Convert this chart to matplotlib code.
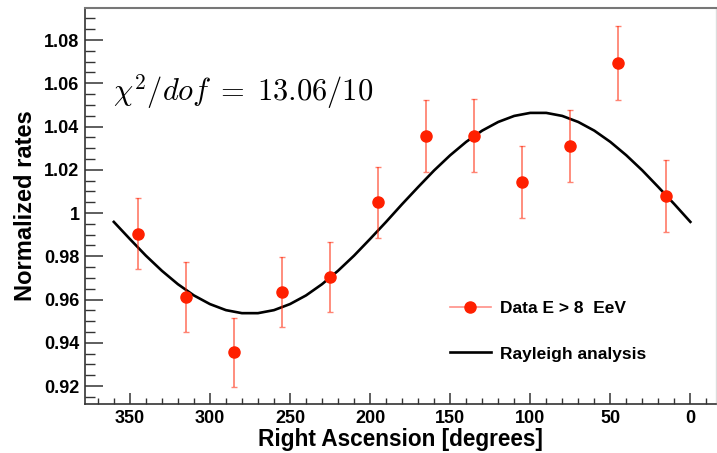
import matplotlib.pyplot as plt
from matplotlib.lines import Line2D
from matplotlib.ticker import MultipleLocator

# data points (RA in degrees, normalized rate, error)
ra = [345, 315, 285, 255, 225, 195, 165, 135, 105, 75, 45, 15]
rate = [0.9904, 0.9611, 0.9356, 0.9634, 0.9705, 1.0049, 1.0356, 1.0358, 1.0145, 1.0310, 1.0694, 1.0079]
err = [0.0165, 0.0162, 0.0160, 0.0163, 0.0163, 0.0165, 0.0168, 0.0168, 0.0167, 0.0167, 0.0172, 0.0166]

# Rayleigh curve, every 10 degrees
curve_ra = list(range(0, 361, 10))
curve_rate = [0.9959, 1.0041, 1.0120, 1.0197, 1.0267, 1.0329, 1.0381, 1.0421, 1.0449, 1.0463,
              1.0463, 1.0449, 1.0421, 1.0381, 1.0329, 1.0267, 1.0197, 1.0120, 1.0041, 0.9959,
              0.9880, 0.9803, 0.9733, 0.9671, 0.9619, 0.9579, 0.9551, 0.9537, 0.9537, 0.9551,
              0.9579, 0.9619, 0.9671, 0.9733, 0.9803, 0.9880, 0.9959]

x_ticks = [350, 300, 250, 200, 150, 100, 50, 0]
y_ticks = [0.92, 0.94, 0.96, 0.98, 1.00, 1.02, 1.04, 1.06, 1.08]
y_tick_labels = ['0.92', '0.94', '0.96', '0.98', '1', '1.02', '1.04', '1.06', '1.08']

plt.rcParams['font.family'] = ['Liberation Sans', 'DejaVu Sans']
plt.rcParams['mathtext.fontset'] = 'cm'

fig = plt.figure(figsize=(7.17, 4.53), dpi=100)
ax = fig.add_axes([85/717, 49/453, 631/717, 396/453])

red = '#ff2000'
ax.plot(curve_ra, curve_rate, color='black', lw=1.9, zorder=2)
ax.errorbar(ra, rate, yerr=err, fmt='none', ecolor=red, elinewidth=1.3,
            capsize=2.5, capthick=1.0, alpha=0.55, zorder=3)
ax.plot(ra, rate, 'o', color=red, ms=8, zorder=4)

ax.set_xlim(378, -16)
ax.set_ylim(0.9117, 1.0948)
ax.set_xticks(x_ticks)
ax.set_yticks(y_ticks)
ax.set_yticklabels(y_tick_labels)
ax.xaxis.set_minor_locator(MultipleLocator(10))
ax.yaxis.set_minor_locator(MultipleLocator(0.005))

ax.tick_params(axis='both', which='both', direction='in', colors='#333333',
               labelcolor='black', labelsize=13)
ax.tick_params(axis='y', which='major', length=13, width=1.1, pad=4)
ax.tick_params(axis='y', which='minor', length=7, width=1.0)
ax.tick_params(axis='x', which='major', length=8, width=1.1, pad=4)
ax.tick_params(axis='x', which='minor', length=4.5, width=1.0)
for lab in ax.get_xticklabels() + ax.get_yticklabels():
    lab.set_fontweight('bold')

for side in ['left', 'bottom']:
    ax.spines[side].set_color('#333333')
    ax.spines[side].set_linewidth(1.2)
ax.spines['top'].set_color('#777777')
ax.spines['top'].set_linewidth(1.5)
ax.spines['right'].set_color('#dddddd')
ax.spines['right'].set_linewidth(1.0)

ax.set_xlabel('Right Ascension [degrees]', fontsize=16.3, fontweight='bold', labelpad=1)
ax.set_ylabel('Normalized rates', fontsize=17, fontweight='bold', labelpad=5)

ax.text(0.045, 0.79, r'$\chi^2/dof\;=\;13.06/10$', transform=ax.transAxes,
        fontsize=22, va='center', ha='left')

handles = [Line2D([], [], color='#ff9088', lw=1.2, marker='o', ms=8,
                  markerfacecolor=red, markeredgecolor=red),
           Line2D([], [], color='black', lw=1.9)]
labels = ['Data E > 8  EeV', 'Rayleigh analysis']
leg = ax.legend(handles, labels, loc='upper left', bbox_to_anchor=(0.553, 0.30),
                frameon=False, fontsize=12.5, handlelength=2.4, labelspacing=1.75,
                handletextpad=0.5)
for t in leg.get_texts():
    t.set_fontweight('bold')

fig.savefig('out.png', dpi=100)
